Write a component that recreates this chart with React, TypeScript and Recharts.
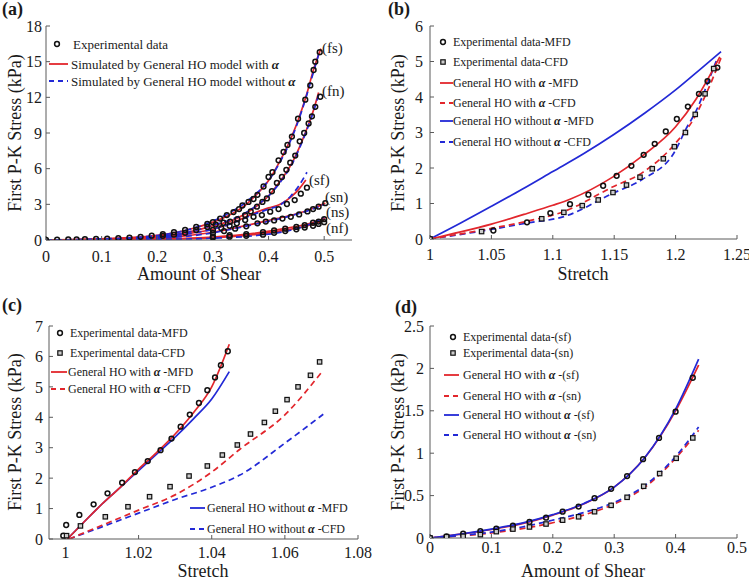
import React from "react";
import { ComposedChart, Line, Scatter, XAxis, YAxis } from "recharts";

const RED = "#e2262c";
const BLUE = "#2229d6";
const AXIS = "#5a5a5a";
const SERIF = "Liberation Serif, Tinos, DejaVu Serif, Times New Roman, serif";

type Pt = { x: number; y: number };
const pts = (rows: number[][]): Pt[] => rows.map(([x, y]) => ({ x, y }));

// ---- (a) shear, six modes ----
const aFsExp = pts([[0, 0], [0.02, 0.02], [0.04, 0.04], [0.055, 0.05], [0.07, 0.07], [0.09, 0.09], [0.11, 0.12], [0.13, 0.15], [0.15, 0.2], [0.17, 0.27], [0.19, 0.36], [0.21, 0.5], [0.23, 0.65], [0.25, 0.85], [0.27, 1.1], [0.29, 1.35], [0.3, 1.5], [0.313, 1.8], [0.325, 2.1], [0.337, 2.35], [0.347, 2.6], [0.353, 2.9], [0.364, 3.2], [0.373, 3.45], [0.38, 3.8], [0.391, 4.5], [0.4, 5.3], [0.407, 5.7], [0.418, 6.7], [0.427, 7.4], [0.434, 8.0], [0.442, 8.7], [0.453, 10.2], [0.466, 11.8], [0.475, 13.0], [0.481, 14.3], [0.484, 15.0], [0.492, 15.8]]);
const aFnExp = pts([[0.21, 0.35], [0.23, 0.45], [0.25, 0.6], [0.27, 0.85], [0.29, 1.1], [0.305, 1.3], [0.319, 1.45], [0.331, 1.55], [0.344, 1.75], [0.358, 2.1], [0.368, 2.4], [0.379, 2.8], [0.389, 3.2], [0.397, 3.5], [0.406, 4.1], [0.415, 4.8], [0.424, 5.3], [0.432, 5.9], [0.439, 6.5], [0.448, 7.1], [0.456, 8.3], [0.464, 9.0], [0.472, 9.8], [0.478, 10.4], [0.484, 11.2], [0.493, 12.05]]);
const aSfExp = pts([[0.3, 0.85], [0.315, 1.0], [0.33, 1.2], [0.343, 1.4], [0.358, 1.68], [0.373, 1.95], [0.388, 2.1], [0.403, 2.38], [0.418, 2.6], [0.433, 3.03], [0.447, 3.36], [0.458, 3.9], [0.469, 4.4]]);
const aSnExp = pts([[0.3, 0.6], [0.32, 0.75], [0.34, 0.95], [0.36, 1.15], [0.38, 1.4], [0.395, 1.55], [0.41, 1.65], [0.425, 1.8], [0.44, 1.95], [0.455, 2.15], [0.47, 2.4], [0.48, 2.6], [0.49, 2.8], [0.502, 3.1]]);
const aNsExp = pts([[0.3, 0.3], [0.33, 0.4], [0.36, 0.5], [0.39, 0.65], [0.41, 0.8], [0.43, 0.95], [0.45, 1.1], [0.465, 1.25], [0.48, 1.45], [0.49, 1.55], [0.5, 1.75]]);
const aNfExp = pts([[0.3, 0.2], [0.33, 0.28], [0.36, 0.35], [0.39, 0.45], [0.41, 0.6], [0.43, 0.75], [0.45, 0.9], [0.465, 1.05], [0.48, 1.2], [0.49, 1.35], [0.5, 1.5]]);

const aFsWith = pts([[0, 0], [0.05, 0.04], [0.1, 0.1], [0.15, 0.2], [0.2, 0.4], [0.25, 0.8], [0.3, 1.5], [0.33, 2.1], [0.36, 3.0], [0.38, 3.9], [0.4, 5.0], [0.42, 6.6], [0.44, 8.5], [0.46, 11.0], [0.47, 12.5], [0.48, 14.2], [0.494, 16.1]]);
const aFsWithout = pts([[0, 0], [0.05, 0.03], [0.1, 0.08], [0.15, 0.18], [0.2, 0.38], [0.25, 0.8], [0.3, 1.6], [0.33, 2.3], [0.36, 3.2], [0.38, 4.0], [0.4, 5.0], [0.42, 6.5], [0.44, 8.4], [0.46, 10.9], [0.47, 12.4], [0.48, 14.0], [0.49, 15.6]]);
const aFnWith = pts([[0, 0], [0.1, 0.07], [0.2, 0.3], [0.25, 0.6], [0.3, 1.2], [0.34, 1.75], [0.38, 2.9], [0.4, 3.7], [0.42, 4.9], [0.44, 6.3], [0.46, 8.3], [0.47, 9.5], [0.48, 10.8], [0.49, 12.4]]);
const aFnWithout = pts([[0, 0], [0.1, 0.06], [0.2, 0.28], [0.25, 0.6], [0.3, 1.25], [0.34, 1.85], [0.38, 2.95], [0.4, 3.7], [0.42, 4.8], [0.44, 6.2], [0.46, 8.2], [0.47, 9.4], [0.48, 10.7], [0.49, 12.2]]);
const aSfWith = pts([[0, 0], [0.1, 0.05], [0.2, 0.25], [0.25, 0.5], [0.3, 0.9], [0.343, 1.6], [0.373, 2.24], [0.4, 2.7], [0.421, 3.0], [0.44, 3.6], [0.455, 4.3], [0.467, 5.05]]);
const aSfWithout = pts([[0, 0], [0.1, 0.04], [0.2, 0.22], [0.25, 0.48], [0.3, 0.9], [0.343, 1.55], [0.373, 2.15], [0.4, 2.6], [0.421, 2.95], [0.44, 3.7], [0.455, 4.6], [0.469, 5.7]]);
const aSnWith = pts([[0, 0], [0.1, 0.04], [0.2, 0.18], [0.25, 0.35], [0.3, 0.65], [0.343, 1.05], [0.373, 1.35], [0.403, 1.68], [0.433, 2.0], [0.463, 2.38], [0.485, 2.75], [0.502, 3.1]]);
const aSnWithout = pts([[0, 0], [0.1, 0.03], [0.2, 0.15], [0.25, 0.3], [0.3, 0.6], [0.343, 1.0], [0.373, 1.3], [0.403, 1.6], [0.433, 1.95], [0.463, 2.35], [0.485, 2.7], [0.5, 3.0]]);
const aNsWith = pts([[0, 0], [0.1, 0.02], [0.2, 0.08], [0.3, 0.25], [0.373, 0.56], [0.433, 1.0], [0.47, 1.35], [0.502, 1.85]]);
const aNfWith = pts([[0, 0], [0.1, 0.02], [0.2, 0.06], [0.3, 0.18], [0.373, 0.45], [0.433, 0.85], [0.47, 1.2], [0.5, 1.65]]);
const aNWithout = pts([[0, 0], [0.2, 0.05], [0.3, 0.15], [0.373, 0.35], [0.433, 0.75], [0.47, 1.25], [0.5, 1.9]]);

// ---- (b) stretch ----
const bMfdExp = pts([[1, 0], [1.0516, 0.24], [1.079, 0.47], [1.098, 0.73], [1.114, 0.98], [1.129, 1.25], [1.141, 1.5], [1.152, 1.78], [1.164, 2.06], [1.174, 2.37], [1.183, 2.68], [1.192, 3.03], [1.201, 3.38], [1.21, 3.73], [1.219, 4.09], [1.226, 4.45], [1.234, 4.83]]);
const bCfdExp = pts([[1, 0], [1.042, 0.21], [1.091, 0.57], [1.109, 0.75], [1.124, 0.94], [1.137, 1.1], [1.149, 1.31], [1.16, 1.52], [1.171, 1.74], [1.181, 1.98], [1.19, 2.26], [1.199, 2.6], [1.208, 3.0], [1.216, 3.51], [1.224, 4.09], [1.231, 4.8]]);
const bMfdWith = pts([[1, 0], [1.025, 0.2], [1.05, 0.42], [1.079, 0.72], [1.1, 0.95], [1.114, 1.12], [1.149, 1.75], [1.173, 2.34], [1.2, 3.16], [1.217, 3.96], [1.236, 5.13]]);
const bCfdWith = pts([[1, 0], [1.05, 0.3], [1.079, 0.5], [1.108, 0.76], [1.149, 1.47], [1.173, 1.87], [1.2, 2.7], [1.215, 3.4], [1.225, 4.1], [1.237, 5.1]]);
const bMfdWithout = pts([[1, 0], [1.025, 0.45], [1.05, 0.92], [1.075, 1.4], [1.1, 1.9], [1.125, 2.4], [1.15, 2.95], [1.175, 3.55], [1.2, 4.2], [1.22, 4.78], [1.237, 5.28]]);
const bCfdWithout = pts([[1, 0], [1.05, 0.27], [1.079, 0.45], [1.109, 0.63], [1.149, 1.29], [1.173, 1.68], [1.2, 2.5], [1.208, 3.07], [1.217, 3.63], [1.225, 4.29], [1.234, 5.1]]);

// ---- (c) stretch ----
const cMfdExp = pts([[0.9994, 0.11], [1.0002, 0.46], [1.0038, 0.79], [1.0077, 1.14], [1.0115, 1.5], [1.0155, 1.85], [1.019, 2.2], [1.0225, 2.56], [1.026, 2.92], [1.029, 3.3], [1.0315, 3.69], [1.034, 4.09], [1.0365, 4.47], [1.0388, 4.89], [1.0409, 5.31], [1.0425, 5.71], [1.0444, 6.17]]);
const cCfdExp = pts([[1.0003, 0.11], [1.0041, 0.43], [1.0109, 0.73], [1.0171, 1.06], [1.023, 1.39], [1.0286, 1.72], [1.0338, 2.07], [1.0388, 2.4], [1.0429, 2.76], [1.047, 3.09], [1.0506, 3.45], [1.0544, 3.83], [1.0574, 4.2], [1.0606, 4.58], [1.0636, 5.0], [1.067, 5.38], [1.0695, 5.82]]);
const cMfdWith = pts([[1.0005, 0], [1.005, 0.55], [1.01, 1.15], [1.015, 1.7], [1.02, 2.3], [1.025, 2.85], [1.03, 3.45], [1.035, 4.15], [1.04, 5.0], [1.0448, 6.4]]);
const cMfdWithout = pts([[1.0005, 0], [1.005, 0.55], [1.01, 1.15], [1.015, 1.7], [1.02, 2.25], [1.025, 2.8], [1.03, 3.35], [1.035, 3.95], [1.04, 4.6], [1.0448, 5.5]]);
const cCfdWith = pts([[1.001, 0], [1.01, 0.45], [1.02, 0.95], [1.03, 1.45], [1.04, 2.2], [1.0477, 2.95], [1.06, 4.08], [1.0705, 5.55]]);
const cCfdWithout = pts([[1.001, 0], [1.01, 0.4], [1.02, 0.85], [1.03, 1.3], [1.04, 1.7], [1.0477, 2.1], [1.06, 3.15], [1.0705, 4.1]]);

// ---- (d) shear sf / sn ----
const dSfExp = pts([[0, 0], [0.027, 0.02], [0.054, 0.05], [0.082, 0.08], [0.108, 0.11], [0.135, 0.145], [0.162, 0.19], [0.189, 0.24], [0.216, 0.31], [0.242, 0.37], [0.268, 0.47], [0.295, 0.58], [0.321, 0.73], [0.347, 0.93], [0.373, 1.18], [0.4, 1.49], [0.428, 1.89]]);
const dSnExp = pts([[0, 0], [0.027, 0.015], [0.054, 0.02], [0.082, 0.04], [0.108, 0.075], [0.135, 0.105], [0.162, 0.13], [0.189, 0.165], [0.216, 0.21], [0.242, 0.25], [0.268, 0.31], [0.295, 0.385], [0.321, 0.48], [0.348, 0.61], [0.374, 0.76], [0.401, 0.94], [0.428, 1.18]]);
const dSfWith = pts([[0, 0], [0.05, 0.045], [0.1, 0.1], [0.15, 0.17], [0.2, 0.27], [0.25, 0.4], [0.3, 0.6], [0.35, 0.95], [0.4, 1.5], [0.4375, 2.04]]);
const dSfWithout = pts([[0, 0], [0.05, 0.047], [0.1, 0.105], [0.15, 0.175], [0.2, 0.275], [0.25, 0.405], [0.3, 0.6], [0.35, 0.95], [0.4, 1.52], [0.4375, 2.11]]);
const dSnWith = pts([[0, 0], [0.05, 0.025], [0.1, 0.06], [0.15, 0.11], [0.2, 0.18], [0.25, 0.27], [0.3, 0.4], [0.35, 0.6], [0.4, 0.94], [0.4375, 1.27]]);
const dSnWithout = pts([[0, 0], [0.05, 0.03], [0.1, 0.07], [0.15, 0.13], [0.2, 0.21], [0.25, 0.3], [0.3, 0.42], [0.35, 0.62], [0.4, 0.96], [0.4375, 1.31]]);

const aXTicks = [0, 0.1, 0.2, 0.3, 0.4, 0.5];
const aYTicks = [0, 3, 6, 9, 12, 15, 18];
const bXTicks = [1, 1.05, 1.1, 1.15, 1.2, 1.25];
const bYTicks = [0, 1, 2, 3, 4, 5, 6];
const cXTicks = [1, 1.02, 1.04, 1.06, 1.08];
const cYTicks = [0, 1, 2, 3, 4, 5, 6, 7];
const dXTicks = [0, 0.1, 0.2, 0.3, 0.4, 0.5];
const dYTicks = [0, 0.5, 1, 1.5, 2, 2.5];

type Curve = { data: Pt[]; color: string; dashed?: boolean };
type Marks = { data: Pt[]; shape: "circle" | "square" };

const circleShape = (p: any) => (
  <circle cx={p.cx} cy={p.cy} r={2.4} fill="none" stroke="#111" strokeWidth={1.5} />
);
const squareShape = (p: any) => (
  <rect x={p.cx - 2.2} y={p.cy - 2.2} width={4.4} height={4.4} fill="#ccc" stroke="#111" strokeWidth={1.2} />
);

type PanelProps = {
  left: number; top: number; width: number; height: number;
  margin: { top: number; right: number; bottom: number; left: number };
  xDomain: [number, number]; xTicks: number[]; yDomain: [number, number]; yTicks: number[];
  xTickMargin: number; yTickMargin: number;
  curves: Curve[]; marks: Marks[];
};

function Panel(p: PanelProps) {
  const tick = { fontSize: 16, fill: "#1a1a1a", fontFamily: SERIF };
  return (
    <div style={{ position: "absolute", left: p.left, top: p.top }}>
      <ComposedChart width={p.width} height={p.height} margin={p.margin}>
        <XAxis type="number" dataKey="x" domain={p.xDomain} ticks={p.xTicks} allowDataOverflow interval={0}
          height={30} tickSize={-4} tickMargin={p.xTickMargin} stroke={AXIS} tick={tick} />
        <YAxis type="number" dataKey="y" domain={p.yDomain} ticks={p.yTicks} allowDataOverflow interval={0}
          width={40} tickSize={-4} tickMargin={p.yTickMargin} stroke={AXIS} tick={tick} />
        {/* mirrored box edges with inward ticks, MATLAB style */}
        <XAxis xAxisId="top" orientation="top" type="number" domain={p.xDomain} ticks={p.xTicks} allowDataOverflow
          interval={0} height={0} tickSize={-4} tick={false} stroke={AXIS} />
        <YAxis yAxisId="right" orientation="right" type="number" domain={p.yDomain} ticks={p.yTicks} allowDataOverflow
          interval={0} width={0} tickSize={-4} tick={false} stroke={AXIS} />
        {p.curves.map((c, i) => (
          <Line key={"l" + i} data={c.data} dataKey="y" type="monotone" stroke={c.color} strokeWidth={1.7}
            strokeDasharray={c.dashed ? "6 4" : undefined} dot={false} activeDot={false} isAnimationActive={false} />
        ))}
        {p.marks.map((m, i) => (
          <Scatter key={"s" + i} data={m.data} dataKey="y" isAnimationActive={false}
            shape={m.shape === "circle" ? circleShape : squareShape} />
        ))}
      </ComposedChart>
    </div>
  );
}

const Alpha = () => <tspan fontWeight="bold" fontStyle="italic">α</tspan>;

function Key({ kind, mx, x, y, color, size, children }: any) {
  let mark: any = null;
  if (kind === "circle") mark = <circle cx={mx} cy={y} r={2.4} fill="none" stroke="#111" strokeWidth={1.5} />;
  if (kind === "square") mark = <rect x={mx - 2.2} y={y - 2.2} width={4.4} height={4.4} fill="#ccc" stroke="#111" strokeWidth={1.2} />;
  if (kind === "solid") mark = <line x1={mx[0]} x2={mx[1]} y1={y} y2={y} stroke={color} strokeWidth={1.8} />;
  if (kind === "dashed") mark = <line x1={mx[0]} x2={mx[1]} y1={y} y2={y} stroke={color} strokeWidth={1.8} strokeDasharray="5 4" />;
  return (
    <g>
      {mark}
      <text x={x} y={y} dominantBaseline="central" fontSize={size} fontFamily={SERIF} fill="#1a1a1a">{children}</text>
    </g>
  );
}

function Titles({ yx, cy, xx, xy, label, lx, ly, xTitle }: any) {
  return (
    <g fontFamily={SERIF} fill="#1a1a1a">
      <text x={lx} y={ly} fontSize={18} fontWeight="bold" dominantBaseline="central">{label}</text>
      <text x={yx} y={cy} fontSize={18} textAnchor="middle" dominantBaseline="central" transform={`rotate(-90 ${yx} ${cy})`}>First P-K Stress (kPa)</text>
      <text x={xx} y={xy} fontSize={18} textAnchor="middle" dominantBaseline="central">{xTitle}</text>
    </g>
  );
}

export default function App() {
  return (
    <div style={{ position: "absolute", left: 0, top: 0, width: 749, height: 581, background: "#fff", overflow: "hidden", fontFamily: SERIF }}>
      <Panel left={0} top={0} width={370} height={290} margin={{ top: 26, right: 18, bottom: 20, left: 6 }}
        xDomain={[0, 0.55]} xTicks={aXTicks} yDomain={[0, 18]} yTicks={aYTicks} xTickMargin={15} yTickMargin={8}
        curves={[
          { data: aFsWith, color: RED }, { data: aFnWith, color: RED }, { data: aSfWith, color: RED },
          { data: aSnWith, color: RED }, { data: aNsWith, color: RED }, { data: aNfWith, color: RED },
          { data: aFsWithout, color: BLUE, dashed: true }, { data: aFnWithout, color: BLUE, dashed: true },
          { data: aSfWithout, color: BLUE, dashed: true }, { data: aSnWithout, color: BLUE, dashed: true },
          { data: aNWithout, color: BLUE, dashed: true },
        ]}
        marks={[aFsExp, aFnExp, aSfExp, aSnExp, aNsExp, aNfExp].map((d) => ({ data: d, shape: "circle" as const }))} />
      <Panel left={370} top={0} width={379} height={290} margin={{ top: 26, right: 12, bottom: 21, left: 20 }}
        xDomain={[1, 1.25]} xTicks={bXTicks} yDomain={[0, 6]} yTicks={bYTicks} xTickMargin={14} yTickMargin={11}
        curves={[
          { data: bMfdWithout, color: BLUE }, { data: bCfdWithout, color: BLUE, dashed: true },
          { data: bMfdWith, color: RED }, { data: bCfdWith, color: RED, dashed: true },
        ]}
        marks={[{ data: bMfdExp, shape: "circle" }, { data: bCfdExp, shape: "square" }]} />
      <Panel left={370} top={290} width={379} height={291} margin={{ top: 36, right: 12, bottom: 13, left: 20 }}
        xDomain={[0, 0.5]} xTicks={dXTicks} yDomain={[0, 2.5]} yTicks={dYTicks} xTickMargin={8} yTickMargin={10}
        curves={[
          { data: dSfWith, color: RED }, { data: dSnWith, color: RED, dashed: true },
          { data: dSfWithout, color: BLUE }, { data: dSnWithout, color: BLUE, dashed: true },
        ]}
        marks={[{ data: dSfExp, shape: "circle" }, { data: dSnExp, shape: "square" }]} />
      {/* drawn last and a little wider so its "1.08" label is not covered or clipped */}
      <Panel left={0} top={290} width={390} height={291} margin={{ top: 36, right: 32, bottom: 12, left: 9 }}
        xDomain={[0.9955, 1.08]} xTicks={cXTicks} yDomain={[0, 7]} yTicks={cYTicks} xTickMargin={12} yTickMargin={10}
        curves={[
          { data: cMfdWithout, color: BLUE }, { data: cCfdWithout, color: BLUE, dashed: true },
          { data: cMfdWith, color: RED }, { data: cCfdWith, color: RED, dashed: true },
        ]}
        marks={[{ data: cMfdExp, shape: "circle" }, { data: cCfdExp, shape: "square" }]} />

      <svg width={749} height={581} style={{ position: "absolute", left: 0, top: 0, pointerEvents: "none" }}>
        <Titles label="(a)" lx={2} ly={9} yx={15} cy={133} xx={199} xy={274} xTitle="Amount of Shear" />
        <Titles label="(b)" lx={388} ly={9} yx={398} cy={133} xx={583} xy={274} xTitle="Stretch" />
        <Titles label="(c)" lx={2} ly={305} yx={15} cy={432} xx={203} xy={571} xTitle="Stretch" />
        <Titles label="(d)" lx={395} ly={307} yx={398} cy={432} xx={583} xy={571} xTitle="Amount of Shear" />

        <Key kind="circle" mx={57} x={73} y={44} size={13}>Experimental data</Key>
        <Key kind="solid" mx={[49, 68]} x={71} y={64} color={RED} size={13}>Simulated by General HO model with <Alpha /></Key>
        <Key kind="dashed" mx={[49, 68]} x={71} y={81} color={BLUE} size={13}>Simulated by General HO model without <Alpha /></Key>
        <g fontFamily={SERIF} fontSize={15} fill="#1a1a1a">
          <text x={322} y={48} dominantBaseline="central">(fs)</text>
          <text x={322} y={91} dominantBaseline="central">(fn)</text>
          <text x={309} y={180} dominantBaseline="central">(sf)</text>
          <text x={325} y={197} dominantBaseline="central">(sn)</text>
          <text x={326} y={212} dominantBaseline="central">(ns)</text>
          <text x={326} y={228} dominantBaseline="central">(nf)</text>
        </g>

        <Key kind="circle" mx={443} x={453} y={42} size={12}>Experimental data-MFD</Key>
        <Key kind="square" mx={443} x={453} y={62} size={12}>Experimental data-CFD</Key>
        <Key kind="solid" mx={[440, 453]} x={453} y={83} color={RED} size={12}>General HO with <Alpha /> -MFD</Key>
        <Key kind="dashed" mx={[440, 453]} x={453} y={103} color={RED} size={12}>General HO with <Alpha /> -CFD</Key>
        <Key kind="solid" mx={[440, 453]} x={453} y={121} color={BLUE} size={12}>General HO without <Alpha /> -MFD</Key>
        <Key kind="dashed" mx={[440, 453]} x={453} y={142} color={BLUE} size={12}>General HO without <Alpha /> -CFD</Key>

        <Key kind="circle" mx={60} x={70} y={333} size={12}>Experimental data-MFD</Key>
        <Key kind="square" mx={60} x={70} y={353} size={12}>Experimental data-CFD</Key>
        <Key kind="solid" mx={[51, 67]} x={68} y={372} color={RED} size={12}>General HO with <Alpha /> -MFD</Key>
        <Key kind="dashed" mx={[51, 67]} x={68} y={389} color={RED} size={12}>General HO with <Alpha /> -CFD</Key>
        <Key kind="solid" mx={[190, 205]} x={207} y={508} color={BLUE} size={12}>General HO without <Alpha /> -MFD</Key>
        <Key kind="dashed" mx={[190, 205]} x={207} y={529} color={BLUE} size={12}>General HO without <Alpha /> -CFD</Key>

        <Key kind="circle" mx={453} x={463} y={337} size={12}>Experimental data-(sf)</Key>
        <Key kind="square" mx={453} x={463} y={353} size={12}>Experimental data-(sn)</Key>
        <Key kind="solid" mx={[444, 459]} x={463} y={375} color={RED} size={12}>General HO with <Alpha /> -(sf)</Key>
        <Key kind="dashed" mx={[444, 459]} x={463} y={396} color={RED} size={12}>General HO with <Alpha /> -(sn)</Key>
        <Key kind="solid" mx={[444, 459]} x={463} y={415} color={BLUE} size={12}>General HO without <Alpha /> -(sf)</Key>
        <Key kind="dashed" mx={[444, 459]} x={463} y={435} color={BLUE} size={12}>General HO without <Alpha /> -(sn)</Key>
      </svg>
    </div>
  );
}
